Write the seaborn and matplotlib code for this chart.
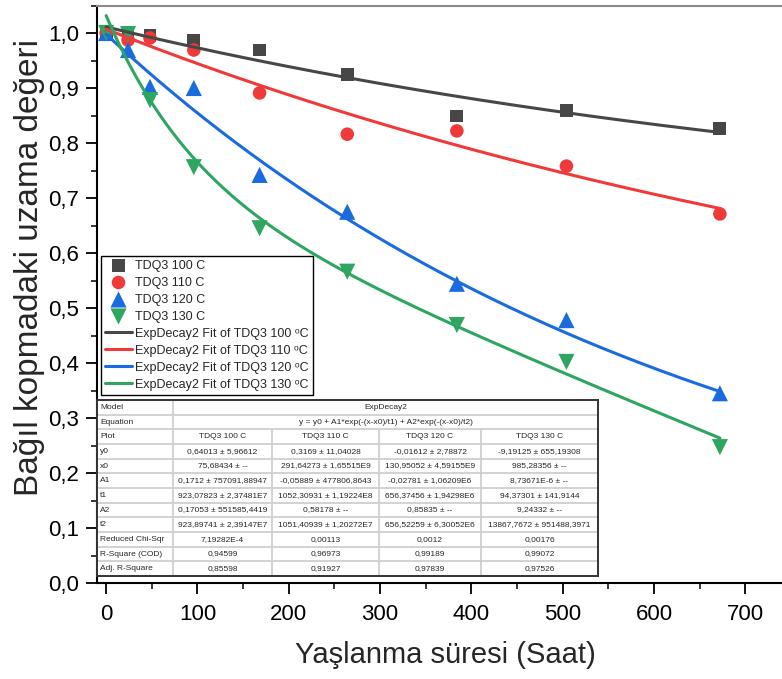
import numpy as np
import pandas as pd
import matplotlib
matplotlib.use("Agg")
import matplotlib.pyplot as plt
from matplotlib.ticker import MultipleLocator, FuncFormatter
from matplotlib.transforms import Bbox, TransformedBbox
import seaborn as sns

# ---- measured data: relative elongation at break vs. ageing time ----
hours = [0, 24, 48, 96, 168, 264, 384, 504, 672]
elong_100 = [1.000, 0.998, 0.996, 0.987, 0.969, 0.924, 0.849, 0.859, 0.826]
elong_110 = [1.000, 0.987, 0.991, 0.969, 0.891, 0.816, 0.822, 0.758, 0.671]
elong_120 = [1.000, 0.969, 0.902, 0.900, 0.742, 0.675, 0.544, 0.478, 0.345]
elong_130 = [1.000, 0.998, 0.878, 0.756, 0.645, 0.566, 0.469, 0.402, 0.247]

series_names = ["TDQ3 100 C", "TDQ3 110 C", "TDQ3 120 C", "TDQ3 130 C"]
fit_names = ["ExpDecay2 Fit of TDQ3 100 \u1d52C",
             "ExpDecay2 Fit of TDQ3 110 \u1d52C",
             "ExpDecay2 Fit of TDQ3 120 \u1d52C",
             "ExpDecay2 Fit of TDQ3 130 \u1d52C"]

# ExpDecay2 fit parameters: y = y0 + A1*exp(-(x-x0)/t1) + A2*exp(-(x-x0)/t2)
fit_y0 = [0.64013, 0.3169, -0.01612, -9.19125]
fit_x0 = [75.68434, 291.64273, 130.95052, 985.28356]
fit_A1 = [0.1712, -0.05889, -0.02781, 8.73671e-6]
fit_t1 = [923.07823, 1052.30931, 656.37456, 94.37301]
fit_A2 = [0.17053, 0.58178, 0.85835, 9.24332]
fit_t2 = [923.89741, 1051.40939, 656.52259, 13867.7672]

# fit report table
table_rows = [
    ["Model", "ExpDecay2"],
    ["Equation", "y = y0 + A1*exp(-(x-x0)/t1) + A2*exp(-(x-x0)/t2)"],
    ["Plot", "TDQ3 100 C", "TDQ3 110 C", "TDQ3 120 C", "TDQ3 130 C"],
    ["y0", "0,64013 ± 5,96612", "0,3169 ± 11,04028", "-0,01612 ± 2,78872", "-9,19125 ± 655,19308"],
    ["x0", "75,68434 ± --", "291,64273 ± 1,65515E9", "130,95052 ± 4,59155E9", "985,28356 ± --"],
    ["A1", "0,1712 ± 757091,88947", "-0,05889 ± 477806,8643", "-0,02781 ± 1,06209E6", "8,73671E-6 ± --"],
    ["t1", "923,07823 ± 2,37481E7", "1052,30931 ± 1,19224E8", "656,37456 ± 1,94298E6", "94,37301 ± 141,9144"],
    ["A2", "0,17053 ± 551585,4419", "0,58178 ± --", "0,85835 ± --", "9,24332 ± --"],
    ["t2", "923,89741 ± 2,39147E7", "1051,40939 ± 1,20272E7", "656,52259 ± 6,30052E6", "13867,7672 ± 951488,3971"],
    ["Reduced Chi-Sqr", "7,19282E-4", "0,00113", "0,0012", "0,00176"],
    ["R-Square (COD)", "0,94599", "0,96973", "0,99189", "0,99072"],
    ["Adj. R-Square", "0,85598", "0,91927", "0,97839", "0,97526"],
]

colors = ["#474747", "#F03A3A", "#1A6BE0", "#2EA560"]
markers = ["s", "o", "^", "v"]
msizes = [85, 95, 135, 135]

sns.set_theme(style="ticks")
plt.rcParams["font.family"] = ["Liberation Sans", "DejaVu Sans"]

W, H = 782, 679
fig = plt.figure(figsize=(W / 100, H / 100), dpi=100)
ax = fig.add_axes([97 / W, (H - 583) / H, (W - 97) / W, (583 - 5.5) / H])

data = pd.DataFrame({
    "Saat": hours * 4,
    "deger": elong_100 + elong_110 + elong_120 + elong_130,
    "seri": sum([[n] * len(hours) for n in series_names], []),
})

for name, c, m, s in zip(series_names, colors, markers, msizes):
    sub = data[data["seri"] == name]
    sns.scatterplot(data=sub, x="Saat", y="deger", marker=m, s=s, color=c,
                    edgecolor="none", linewidth=0, label=name, ax=ax, zorder=3)

xfit = np.linspace(0, 672, 400)
for i, (name, c) in enumerate(zip(fit_names, colors)):
    yfit = (fit_y0[i] + fit_A1[i] * np.exp(-(xfit - fit_x0[i]) / fit_t1[i])
            + fit_A2[i] * np.exp(-(xfit - fit_x0[i]) / fit_t2[i]))
    sns.lineplot(x=xfit, y=yfit, color=c, linewidth=2.2, label=name, ax=ax,
                 estimator=None, sort=False, zorder=4)

ax.set_xlim(-10, 740)
ax.set_ylim(0, 1.05)
ax.xaxis.set_major_locator(MultipleLocator(100))
ax.xaxis.set_minor_locator(MultipleLocator(50))
ax.yaxis.set_major_locator(MultipleLocator(0.1))
ax.yaxis.set_minor_locator(MultipleLocator(0.05))
ax.yaxis.set_major_formatter(FuncFormatter(lambda v, p: f"{v:.1f}".replace(".", ",")))
ax.xaxis.set_major_formatter(FuncFormatter(lambda v, p: f"{v:.0f}"))
ax.tick_params(which="major", direction="out", length=8, width=1.3,
               labelsize=16, colors="black", pad=5)
ax.tick_params(which="minor", direction="out", length=4, width=1.3)
ax.tick_params(axis="x", which="major", pad=7)
ax.set_xlabel("")
ax.set_ylabel("")
for side in ["left", "bottom"]:
    ax.spines[side].set_color("black")
    ax.spines[side].set_linewidth(1.5)
ax.spines["top"].set_color("#8a8a8a")
ax.spines["top"].set_linewidth(1.5)
ax.spines["right"].set_visible(False)

fig.text(30 / W, 1 - 268 / H, "Bağıl kopmadaki uzama değeri", rotation=90,
         ha="center", va="center", fontsize=24)
fig.text(445 / W, 1 - 655 / H, "Yaşlanma süresi (Saat)", ha="center",
         va="center", fontsize=21)

handles, labels = ax.get_legend_handles_labels()
leg = ax.legend(handles, labels, loc="upper left",
                bbox_to_anchor=(4 / 685, (583 - 256) / 577.5), borderaxespad=0,
                fontsize=9, frameon=True, fancybox=False, framealpha=1,
                edgecolor="black", handlelength=2.2, handletextpad=0.25,
                labelspacing=0.4, borderpad=0.3, markerscale=1.0)
leg.get_frame().set_linewidth(1.0)
leg.set_zorder(6)

# ---- fit report table, drawn in its own pixel-coordinate axes ----
tx0, tx1, ty0, ty1 = 97, 598, 400, 576
col_edges = [97, 173, 272, 379, 481, 598]
row_h = (ty1 - ty0) / len(table_rows)
tax = fig.add_axes([tx0 / W, (H - ty1) / H, (tx1 - tx0) / W, (ty1 - ty0) / H], zorder=7)
tax.set_xlim(tx0, tx1)
tax.set_ylim(ty1, ty0)
tax.set_facecolor("white")
for s in tax.spines.values():
    s.set_color("#333333")
    s.set_linewidth(1.4)
tax.set_xticks([])
tax.set_yticks([])
grid_c = "#cfcfcf"
for r in range(1, len(table_rows)):
    y = ty0 + r * row_h
    tax.plot([tx0, tx1], [y, y], color=grid_c, lw=1.3, zorder=1)
tax.plot([col_edges[1]] * 2, [ty0, ty1], color=grid_c, lw=1.3, zorder=1)
for xe in col_edges[2:-1]:
    tax.plot([xe, xe], [ty0 + 2 * row_h, ty1], color=grid_c, lw=1.3, zorder=1)

renderer = fig.canvas.get_renderer()
for r, row in enumerate(table_rows):
    yc = ty0 + (r + 0.5) * row_h
    tax.text(col_edges[0] + 3, yc, row[0], ha="left", va="center", fontsize=6)
    if len(row) == 2:
        tax.text((col_edges[1] + tx1) / 2, yc, row[1], ha="center", va="center", fontsize=6)
        continue
    for j, txt in enumerate(row[1:]):
        a, b = col_edges[j + 1], col_edges[j + 2]
        t = tax.text((a + b) / 2, yc, txt, ha="center", va="center", fontsize=6)
        wpx = t.get_window_extent(renderer).width
        if wpx > (b - a) - 2:
            t.set_ha("left")
            t.set_x(a + 1)
        clip = Bbox.from_extents(a, ty0 + r * row_h, b, ty0 + (r + 1) * row_h)
        t.set_clip_box(TransformedBbox(clip, tax.transData))
        t.set_clip_on(True)

fig.savefig("out.png", dpi=100)
